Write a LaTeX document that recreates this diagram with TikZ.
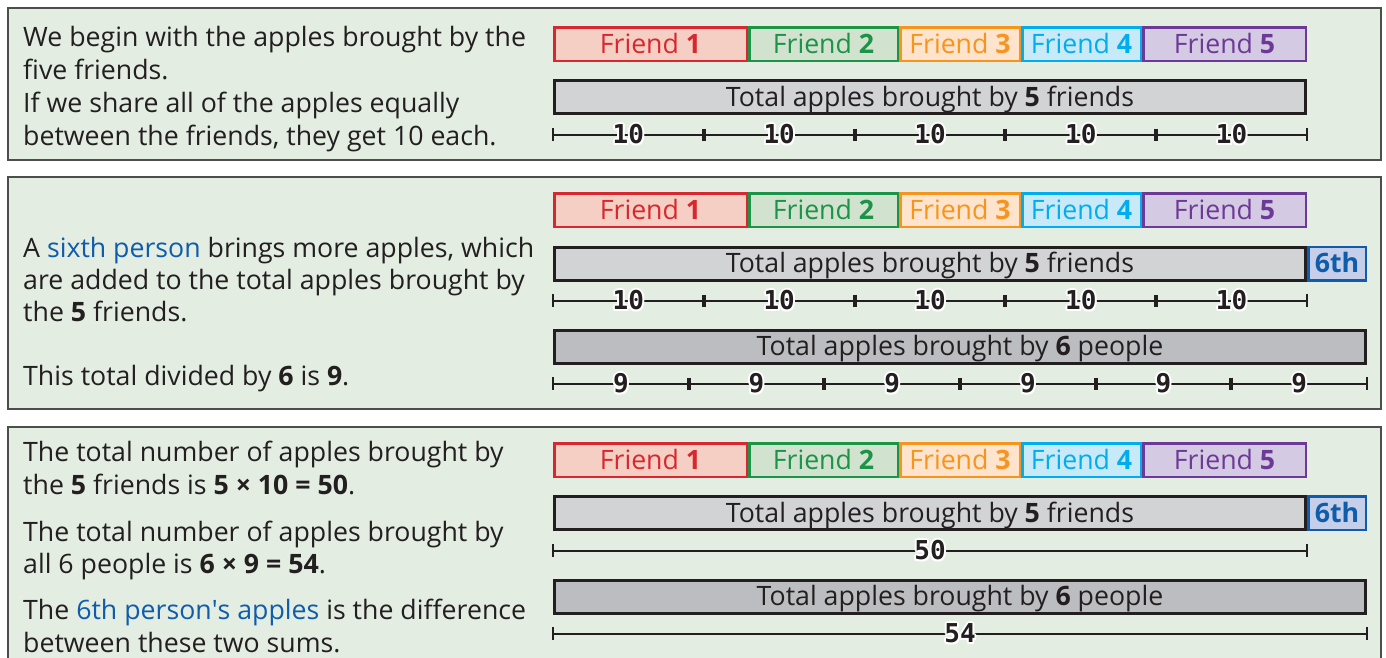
\documentclass[tikz,border=0pt]{standalone}
\usepackage{fontspec}
\setmainfont{Open Sans}
\newfontfamily\plainfont{Open Sans}
\newfontfamily\numfont{DejaVu Sans Mono}
\usetikzlibrary{calc}

\definecolor{panelbg}{HTML}{E3EDE2}
\definecolor{panelline}{HTML}{4D4D4D}
\definecolor{ink}{HTML}{231F20}
\definecolor{fone}{HTML}{D7282F}
\definecolor{fonebg}{HTML}{F5CFC3}
\definecolor{ftwo}{HTML}{1C9447}
\definecolor{ftwobg}{HTML}{D1E2CF}
\definecolor{fthree}{HTML}{F7941D}
\definecolor{fthreebg}{HTML}{FEE4CC}
\definecolor{ffour}{HTML}{00AEEF}
\definecolor{ffourbg}{HTML}{C7E9F8}
\definecolor{ffive}{HTML}{6D3996}
\definecolor{ffivebg}{HTML}{D5CAE3}
\definecolor{sixth}{HTML}{0F5CAB}
\definecolor{sixthbg}{HTML}{C6CFEA}
\definecolor{totfive}{HTML}{D1D3D4}
\definecolor{totsix}{HTML}{BCBDC0}

% white outline behind the scale numbers
\newcommand\haloshift[3]{\rlap{\kern#1\raisebox{#2}{\color{white}#3}}}
\newcommand\halotext[1]{%
  \haloshift{2pt}{0pt}{#1}\haloshift{-2pt}{0pt}{#1}%
  \haloshift{0pt}{2pt}{#1}\haloshift{0pt}{-2pt}{#1}%
  \haloshift{1.5pt}{1.5pt}{#1}\haloshift{-1.5pt}{1.5pt}{#1}%
  \haloshift{1.5pt}{-1.5pt}{#1}\haloshift{-1.5pt}{-1.5pt}{#1}%
  #1}

\tikzset{
  panel/.style={draw=panelline, fill=panelbg, line width=1.5pt},
  bartext/.style={inner sep=0pt, text height=21.5pt, text depth=3.5pt,
    font=\fontsize{26.7}{32}\selectfont},
  friendbox/.style={bartext, draw=#1, fill=#1bg, text=#1, line width=2.5pt,
    minimum height=33.5pt},
  totbox/.style={bartext, draw=ink, fill=#1, text=ink, line width=3pt,
    minimum height=33pt},
  sixbox/.style={bartext, draw=sixth, fill=sixthbg, text=sixth, line width=2.5pt,
    minimum height=33.5pt, minimum width=57.5pt, font=\fontsize{26.7}{32}\selectfont\bfseries},
  scaleline/.style={draw=ink, line width=2pt},
  endtick/.style={draw=ink, line width=2pt},
  midtick/.style={draw=ink, line width=4pt},
  numlabel/.style={inner sep=0pt, text=ink, font=\numfont\bfseries\fontsize{26}{26}\selectfont},
  bodytext/.style={anchor=base west, inner sep=0pt, text=ink,
    font=\fontsize{26.7}{32}\selectfont}
}

% row of the five friends' boxes; #1 = centre y, #2 = name prefix
\newcommand\friendrow[2]{%
  \foreach \k/\xa/\xb/\col in {1/553/748/fone,2/748/899/ftwo,3/899/1021/fthree,4/1021/1142/ffour,5/1142/1307/ffive}{%
    \node[friendbox=\col, minimum width={\xb-\xa-2.5}] (#2f\k) at ({(\xa+\xb)/2},#1) {Friend \textbf{\k}};
  }%
}

% measuring line; #1 y, #2 x start, #3 x end, #4 parts, #5 label, #6 name prefix
\newcommand\scalebar[6]{%
  \coordinate (#6a) at (#2,#1);
  \coordinate (#6b) at (#3,#1);
  \draw[scaleline] (#6a) -- (#6b);
  \draw[endtick] (#6a) ++(0,-6.5) -- ++(0,13);
  \draw[endtick] (#6b) ++(0,-6.5) -- ++(0,13);
  \foreach \j in {1,...,#4}{%
    \ifnum\j>1
      \draw[midtick] ($(#6a)!{(\j-1)/#4}!(#6b)$) ++(0,-6) -- ++(0,12);
    \fi
    \node[numlabel] (#6l\j) at ($(#6a)!{(\j-0.5)/#4}!(#6b)$) {\halotext{#5}};
  }%
}

\begin{document}
\begin{tikzpicture}[x=1pt,y=-1pt]
\useasboundingbox (0,0) rectangle (1386,657);
\fill[white] (0,0) rectangle (1386,657);

% three panels
\draw[panel] (8,8) rectangle (1381,160);
\draw[panel] (8,177) rectangle (1381,409);
\draw[panel] (8,427) rectangle (1381,680);

% ---- panel 1 ----
\node[bodytext] (p1t1) at (23,46) {We begin with the apples brought by the};
\node[bodytext] (p1t2) at (23,79) {five friends.};
\node[bodytext] (p1t3) at (23,112) {If we share all of the apples equally};
\node[bodytext] (p1t4) at (23,145) {between the friends, they get 10 each.};

\friendrow{44}{p1}
\node[totbox=totfive, minimum width=751pt] (p1tot) at (930,97) {Total apples brought by \textbf{5} friends};
\scalebar{134.5}{553}{1307}{5}{10}{p1s}

% ---- panel 2 ----
\node[bodytext] (p2t1) at (23,257) {A \textcolor{sixth}{sixth person} brings more apples, which};
\node[bodytext] (p2t2) at (23,289) {are added to the total apples brought by};
\node[bodytext] (p2t3) at (23,321) {the \textbf{5} friends.};
\node[bodytext] (p2t4) at (23,385) {This total divided by \textbf{6} is \textbf{9}.};

\friendrow{210}{p2}
\node[totbox=totfive, minimum width=751pt] (p2tot) at (930,263.5) {Total apples brought by \textbf{5} friends};
\node[sixbox] (p2six) at (1337,263.5) {6th};
\scalebar{300.5}{553}{1307}{5}{10}{p2s}
\node[totbox=totsix, minimum width=811pt] (p2all) at (960,346.5) {Total apples brought by \textbf{6} people};
\scalebar{383.5}{553}{1367}{6}{9}{p2u}

% ---- panel 3 ----
\node[bodytext] (p3t1) at (23,461) {The total number of apples brought by};
\node[bodytext] (p3t2) at (23,494) {the \textbf{5} friends is \textbf{5 × 10 = 50}.};
\node[bodytext] (p3t3) at (23,541) {The total number of apples brought by};
\node[bodytext] (p3t4) at (23,573) {all 6 people is \textbf{6 × 9 = 54}.};
\node[bodytext] (p3t5) at (23,619) {The \textcolor{sixth}{6th person{\plainfont'}s apples} is the difference};
\node[bodytext] (p3t6) at (23,652) {between these two sums.};

\friendrow{460}{p3}
\node[totbox=totfive, minimum width=751pt] (p3tot) at (930,513) {Total apples brought by \textbf{5} friends};
\node[sixbox] (p3six) at (1337,513) {6th};
\scalebar{550.5}{553}{1307}{1}{50}{p3s}
\node[totbox=totsix, minimum width=811pt] (p3all) at (960,596.5) {Total apples brought by \textbf{6} people};
\scalebar{633.5}{553}{1367}{1}{54}{p3u}
\end{tikzpicture}
\end{document}
